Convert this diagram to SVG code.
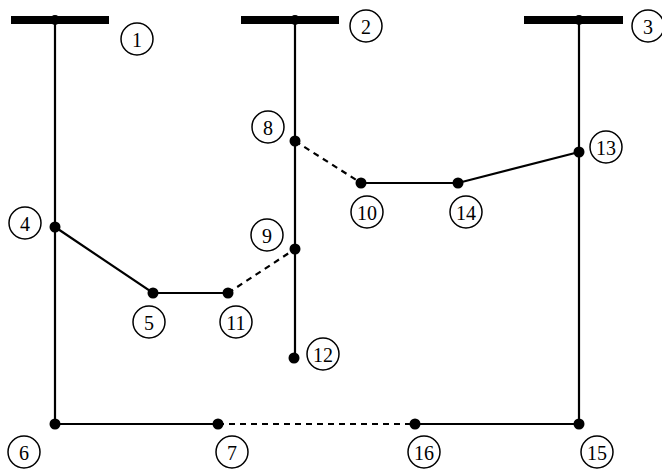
<svg xmlns="http://www.w3.org/2000/svg" width="662" height="470" viewBox="0 0 662 470">
<style>
.ln{stroke:#000;stroke-width:2.2;fill:none}
.ds{stroke:#000;stroke-width:2.2;fill:none;stroke-dasharray:6 5}
.bus{fill:#000}
.dot{fill:#000}
.lc{fill:#fff;stroke:#000;stroke-width:1.5}
.lt{font-family:"Liberation Serif",serif;font-size:20px;text-anchor:middle;dominant-baseline:central;fill:#000}
</style>
<rect width="662" height="470" fill="#fff"/>
<g id="connectors">
<line class="ln" x1="55" y1="20" x2="55" y2="424"/>
<line class="ln" x1="295" y1="20" x2="295" y2="358"/>
<line class="ln" x1="579" y1="20" x2="579" y2="424"/>
<polyline class="ln" points="55,227 153,293 228,293"/>
<line class="ds" x1="228" y1="293" x2="295" y2="249"/>
<line class="ds" x1="295" y1="141" x2="361" y2="183"/>
<polyline class="ln" points="361,183 458,183 579,152"/>
<line class="ln" x1="55" y1="424" x2="218" y2="424"/>
<line class="ds" x1="218" y1="424" x2="415" y2="424"/>
<line class="ln" x1="415" y1="424" x2="579" y2="424"/>
</g>
<g id="bus1"><rect class="bus" x="11" y="16" width="98" height="8"/><circle class="dot" cx="55" cy="20" r="5"/><circle class="lc" cx="137" cy="39" r="16"/><text class="lt" x="137" y="40">1</text></g>
<g id="bus2"><rect class="bus" x="241" y="16" width="98" height="8"/><circle class="dot" cx="295" cy="20" r="5"/><circle class="lc" cx="366" cy="26" r="16"/><text class="lt" x="366" y="27">2</text></g>
<g id="bus3"><rect class="bus" x="524" y="16" width="99" height="8"/><circle class="dot" cx="579" cy="20" r="5"/><circle class="lc" cx="648" cy="26" r="16"/><text class="lt" x="648" y="27">3</text></g>
<g id="n4"><circle class="dot" cx="55" cy="227" r="5.5"/><circle class="lc" cx="25" cy="223" r="16"/><text class="lt" x="25" y="224">4</text></g>
<g id="n5"><circle class="dot" cx="153" cy="293" r="5.5"/><circle class="lc" cx="149" cy="322" r="16"/><text class="lt" x="149" y="323">5</text></g>
<g id="n6"><circle class="dot" cx="55" cy="424" r="5.5"/><circle class="lc" cx="24" cy="452" r="16"/><text class="lt" x="24" y="453">6</text></g>
<g id="n7"><circle class="dot" cx="218" cy="424" r="5.5"/><circle class="lc" cx="232" cy="452" r="16"/><text class="lt" x="232" y="453">7</text></g>
<g id="n8"><circle class="dot" cx="295" cy="141" r="5.5"/><circle class="lc" cx="268" cy="127" r="16"/><text class="lt" x="268" y="128">8</text></g>
<g id="n9"><circle class="dot" cx="295" cy="249" r="5.5"/><circle class="lc" cx="267" cy="235" r="16"/><text class="lt" x="267" y="236">9</text></g>
<g id="n10"><circle class="dot" cx="361" cy="183" r="5.5"/><circle class="lc" cx="367" cy="212" r="16"/><text class="lt" x="367" y="213">10</text></g>
<g id="n11"><circle class="dot" cx="228" cy="293" r="5.5"/><circle class="lc" cx="236" cy="322" r="16"/><text class="lt" x="236" y="323">11</text></g>
<g id="n12"><circle class="dot" cx="294" cy="358" r="5.5"/><circle class="lc" cx="323" cy="354" r="16"/><text class="lt" x="323" y="355">12</text></g>
<g id="n13"><circle class="dot" cx="579" cy="152" r="5.5"/><circle class="lc" cx="606" cy="147" r="16"/><text class="lt" x="606" y="148">13</text></g>
<g id="n14"><circle class="dot" cx="458" cy="183" r="5.5"/><circle class="lc" cx="466" cy="212" r="16"/><text class="lt" x="466" y="213">14</text></g>
<g id="n15"><circle class="dot" cx="579" cy="424" r="5.5"/><circle class="lc" cx="597" cy="452" r="16"/><text class="lt" x="597" y="453">15</text></g>
<g id="n16"><circle class="dot" cx="415" cy="424" r="5.5"/><circle class="lc" cx="424" cy="452" r="16"/><text class="lt" x="424" y="453">16</text></g>
</svg>
